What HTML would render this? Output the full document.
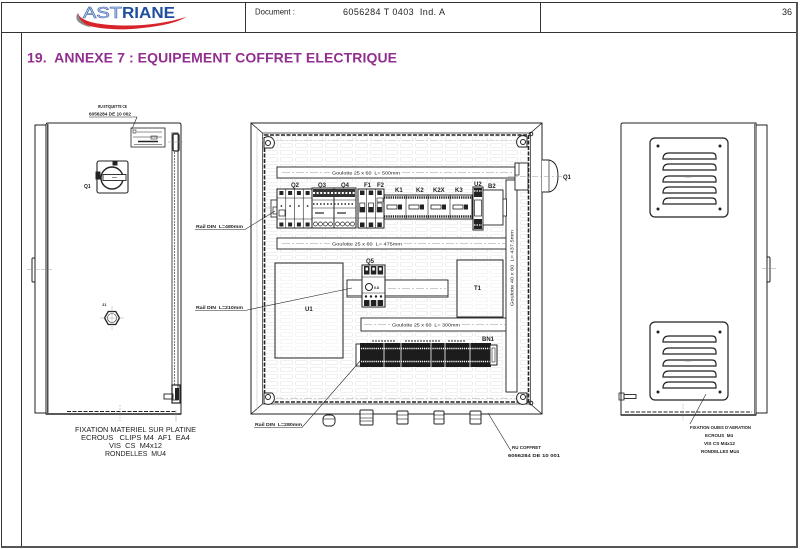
<!DOCTYPE html>
<html><head><meta charset="utf-8">
<style>
html,body{margin:0;padding:0;background:#fff;}
svg{display:block;}
text{font-family:"Liberation Sans",Arial,sans-serif;}
</style></head><body>
<svg width="800" height="549" viewBox="0 0 800 549" xmlns="http://www.w3.org/2000/svg">
<defs>
<pattern id="grid" x="264" y="135" width="15" height="7" patternUnits="userSpaceOnUse">
<rect x="1.5" y="1.5" width="12" height="4" rx="1.2" fill="none" stroke="#e3e3e3" stroke-width="0.6"/>
</pattern>
</defs>
<rect x="0" y="0" width="800" height="549" fill="#fff"/>

<!-- page frame -->
<g stroke="#333" fill="none">
<line x1="1.5" y1="2" x2="1.5" y2="548"/>
<line x1="1" y1="2.5" x2="798" y2="2.5"/>
<line x1="1" y1="32.5" x2="798" y2="32.5"/>
<line x1="245.5" y1="2" x2="245.5" y2="33"/>
<line x1="540.5" y1="2" x2="540.5" y2="33"/>
<line x1="21.5" y1="33" x2="21.5" y2="547"/>
</g>
<line x1="797" y1="2" x2="797" y2="548" stroke="#555" stroke-width="2"/>
<line x1="1" y1="547" x2="798" y2="547" stroke="#555" stroke-width="2"/>

<!-- logo -->
<path d="M78,13 C70,24 98,31 132,29 C158,27 177,23 186,17 C170,22 150,25.5 128,25.5 C100,25.5 80,22 78,13 Z" fill="#d9232a"/>
<path d="M78,13 C73,20 80,25 92,27.5 C84,24 79,20 78,13 Z" fill="#888"/>
<text x="83" y="18" font-size="16" fill="#c9d6ee" stroke="#3b63ad" stroke-width="0.6" textLength="39" lengthAdjust="spacingAndGlyphs">AST</text>
<text x="122" y="18" font-size="16" font-weight="bold" fill="#1f4e9e" textLength="53" lengthAdjust="spacingAndGlyphs">RIANE</text>

<!-- header texts -->
<text x="255" y="14.5" font-size="7.8" fill="#222">Document :</text>
<text x="343" y="15" font-size="9" fill="#222" textLength="102" xml:space="preserve">6056284 T 0403  Ind. A</text>
<text x="792" y="15" font-size="9" fill="#222" text-anchor="end">36</text>

<!-- title -->
<text x="27" y="62.5" font-size="14" font-weight="bold" fill="#912f8f" textLength="370" xml:space="preserve">19.  ANNEXE 7 : EQUIPEMENT COFFRET ELECTRIQUE</text>

<!-- ================= LEFT VIEW (door) ================= -->
<g stroke="#222" fill="none" stroke-width="1">
<rect x="35" y="125" width="11" height="288"/>
<path d="M46,414 V125 Q46,123 48,123 H179 Q181,123 181,125 V414 Z"/>
<line x1="47.8" y1="124" x2="47.8" y2="413" stroke-width="1.2"/>
<rect x="172" y="133" width="6" height="267" stroke-width="0.8"/>
<line x1="174.5" y1="152" x2="174.5" y2="385" stroke-dasharray="2 1" stroke-width="0.6"/>
<rect x="173" y="134" width="6" height="17" rx="1.5" stroke-width="1.3"/>
<line x1="168" y1="142" x2="184" y2="142" stroke="#999" stroke-width="0.5" stroke-dasharray="3 1 1 1"/>
<line x1="67" y1="411.5" x2="177" y2="411.5" stroke-dasharray="4 1.5" stroke-width="1"/>
<line x1="46" y1="414" x2="181" y2="414" stroke-width="1.6"/>
<line x1="120" y1="405" x2="120" y2="421" stroke="#999" stroke-width="0.5" stroke-dasharray="2 1"/>
<line x1="176" y1="410" x2="176" y2="422" stroke="#999" stroke-width="0.5"/>
<!-- bump -->
<rect x="32" y="258" width="3" height="24" rx="1"/>
<line x1="27" y1="269.5" x2="52" y2="269.5" stroke="#999" stroke-width="0.5" stroke-dasharray="4 1 1 1"/>
<!-- label plate -->
<rect x="131" y="128" width="34" height="19" stroke-width="0.8"/>
<rect x="133" y="130" width="3" height="3" stroke-width="0.6"/>
<line x1="137" y1="132" x2="162" y2="132" stroke-width="0.6"/>
<line x1="133" y1="137" x2="162" y2="137" stroke-width="0.6"/>
<rect x="151" y="136" width="6" height="3" stroke-width="0.6"/>
<line x1="138" y1="141.5" x2="158" y2="141.5" stroke-width="1.4"/>
<line x1="134" y1="144.5" x2="162" y2="144.5" stroke-width="0.5"/>
<polyline points="89,117 137,117 132,129" stroke-width="0.6"/>
<!-- Q1 switch -->
<rect x="97" y="161" width="31" height="32" rx="2" stroke-width="1.1"/>
<circle cx="112" cy="178" r="11" stroke-width="1.4"/>
<rect x="103" y="174.5" width="23" height="6" fill="#fff" stroke-width="0.9"/>
<line x1="112" y1="177.5" x2="117" y2="177.5" stroke-width="0.5"/>
<rect x="113" y="161" width="4" height="4" fill="#222"/>
<rect x="96" y="172" width="4" height="7" fill="#222"/>
<!-- J1 hex -->
<polygon points="119.5,318 115.75,324.5 108.25,324.5 104.5,318 108.25,311.5 115.75,311.5" stroke-width="1.3"/>
<circle cx="112" cy="318" r="4.5" stroke-width="0.6"/>
<line x1="100" y1="318" x2="124" y2="318" stroke="#999" stroke-width="0.4"/>
<line x1="112" y1="306" x2="112" y2="330" stroke="#999" stroke-width="0.4"/>
<!-- bracket bottom -->
<rect x="172" y="385" width="8" height="18" stroke-width="1.2"/>
<rect x="175" y="388" width="4" height="12" fill="#222" stroke="none"/>
<rect x="164" y="394" width="9" height="5" stroke-width="0.9"/>
</g>
<g fill="#222" font-weight="bold">
<text x="98" y="108" font-size="4.6" textLength="29" lengthAdjust="spacingAndGlyphs">RU ETIQUETTE CE</text>
<text x="89" y="115.5" font-size="4.6" textLength="42" lengthAdjust="spacingAndGlyphs">6056284 DE 10 002</text>
<text x="84" y="188" font-size="5">Q1</text>
<text x="102" y="306" font-size="4">J1</text>
<text x="75" y="432" font-size="7.5" font-weight="normal" textLength="121" lengthAdjust="spacingAndGlyphs">FIXATION MATERIEL SUR PLATINE</text>
<text x="81" y="440" font-size="7.5" font-weight="normal" textLength="109" lengthAdjust="spacingAndGlyphs" xml:space="preserve">ECROUS   CLIPS M4  AF1  EA4</text>
<text x="109" y="448" font-size="7.5" font-weight="normal" textLength="53" lengthAdjust="spacingAndGlyphs" xml:space="preserve">VIS  CS  M4x12</text>
<text x="105" y="456" font-size="7.5" font-weight="normal" textLength="61" lengthAdjust="spacingAndGlyphs" xml:space="preserve">RONDELLES  MU4</text>
</g>

<!-- ================= MIDDLE VIEW ================= -->
<rect x="264" y="135" width="266" height="267" fill="url(#grid)"/>
<g stroke="#222" fill="none" stroke-width="1">
<rect x="251" y="123" width="291" height="291"/>
<rect x="262.5" y="133" width="268" height="271" stroke-width="0.7"/>
<rect x="264.5" y="135" width="264" height="267" stroke-width="1.6" stroke-dasharray="4 1.5"/>
<line x1="251" y1="123" x2="262.5" y2="133" stroke-width="0.8"/>
<line x1="542" y1="123" x2="530.5" y2="133" stroke-width="0.8"/>
<line x1="251" y1="414" x2="262.5" y2="404" stroke-width="0.8"/>
<line x1="542" y1="414" x2="530.5" y2="404" stroke-width="0.8"/>
<line x1="257" y1="128" x2="257" y2="409" stroke="#bbb" stroke-width="0.5"/>
<line x1="262" y1="398.5" x2="530" y2="398.5" stroke="#aaa" stroke-width="0.6" stroke-dasharray="8 2 2 2"/>
<line x1="262" y1="140.5" x2="530" y2="140.5" stroke="#bbb" stroke-width="0.5" stroke-dasharray="8 2 2 2"/>
<!-- hinges -->
<path d="M264,138 A6,6 0 1 1 272,148 L264,148 Z" fill="#fff" stroke-width="1"/>
<circle cx="268" cy="143" r="2.5"/>
<path d="M527,137 A6,6 0 1 0 519,147 L527,147 Z" fill="#fff" stroke-width="1"/>
<circle cx="523" cy="142" r="2.5"/>
<path d="M264,403 A6,6 0 1 0 272,393 L264,393 Z" fill="#fff" stroke-width="1"/>
<circle cx="268" cy="397" r="2.5"/>
<path d="M527,403 A6,6 0 1 1 519,393 L527,393 Z" fill="#fff" stroke-width="1"/>
<circle cx="523" cy="397" r="2.5"/>
<circle cx="531" cy="134" r="1.8"/>
<circle cx="531" cy="403" r="1.8"/>

<!-- ducts -->
<rect x="277" y="167" width="238" height="11" fill="#fff" stroke-width="0.9"/>
<line x1="282" y1="172.5" x2="330" y2="172.5" stroke="#999" stroke-width="0.5" stroke-dasharray="8 2 2 2"/>
<line x1="402" y1="172.5" x2="512" y2="172.5" stroke="#999" stroke-width="0.5" stroke-dasharray="8 2 2 2"/>
<rect x="277" y="238" width="230" height="11" fill="#fff" stroke-width="0.9"/>
<line x1="282" y1="243.5" x2="330" y2="243.5" stroke="#999" stroke-width="0.5" stroke-dasharray="8 2 2 2"/>
<line x1="404" y1="243.5" x2="505" y2="243.5" stroke="#999" stroke-width="0.5" stroke-dasharray="8 2 2 2"/>
<rect x="361" y="318" width="146" height="13" fill="#fff" stroke-width="0.9"/>
<line x1="364" y1="324.5" x2="390" y2="324.5" stroke="#999" stroke-width="0.5" stroke-dasharray="8 2 2 2"/>
<line x1="462" y1="324.5" x2="505" y2="324.5" stroke="#999" stroke-width="0.5" stroke-dasharray="8 2 2 2"/>
<rect x="506" y="180" width="11" height="212" fill="#fff" stroke-width="0.9"/>

<!-- DIN rail top centerline -->
<line x1="264" y1="208" x2="506" y2="208" stroke="#aaa" stroke-width="0.5" stroke-dasharray="8 2 2 2"/>

<!-- Q2 -->
<rect x="271" y="200" width="6" height="17" fill="#fff" stroke-width="0.8"/>
<rect x="273" y="207" width="4" height="7" stroke-width="0.7"/>
<rect x="277" y="189" width="35" height="39" fill="#fff"/>
<line x1="285.75" y1="189" x2="285.75" y2="228" stroke-width="0.6"/>
<line x1="294.5" y1="189" x2="294.5" y2="228" stroke-width="0.6"/>
<line x1="303.25" y1="189" x2="303.25" y2="228" stroke-width="0.6"/>
<line x1="277" y1="198" x2="312" y2="198" stroke-width="0.6"/>
<line x1="277" y1="219" x2="312" y2="219" stroke-width="0.6"/>
<g fill="#222" stroke="none">
<rect x="279.4" y="191" width="4" height="4"/><rect x="288.1" y="191" width="4" height="4"/><rect x="296.9" y="191" width="4" height="4"/><rect x="305.6" y="191" width="4" height="4"/>
<circle cx="281.4" cy="206" r="0.9"/><circle cx="290.1" cy="206" r="0.9"/><circle cx="298.9" cy="206" r="0.9"/><circle cx="307.6" cy="206" r="0.9"/>
<rect x="279.4" y="222.5" width="4" height="4"/><rect x="288.1" y="222.5" width="4" height="4"/><rect x="296.9" y="222.5" width="4" height="4"/><rect x="305.6" y="222.5" width="4" height="4"/>
</g>
<rect x="279" y="210" width="6" height="6" stroke-width="0.7"/>

<!-- Q3 Q4 -->
<rect x="312" y="188" width="22" height="40" fill="#fff"/>
<rect x="334" y="188" width="22" height="40" fill="#fff"/>
<rect x="313" y="189" width="42" height="8" fill="#333" stroke="none"/>
<line x1="313" y1="193" x2="355" y2="193" stroke="#fff" stroke-width="2" stroke-dasharray="2 1.6"/>
<line x1="312" y1="200" x2="356" y2="200" stroke-width="0.6"/>
<line x1="313" y1="204" x2="355" y2="204" stroke-width="1.6" stroke-dasharray="1.5 2"/>
<line x1="312" y1="208" x2="356" y2="208" stroke-width="0.5"/>
<line x1="315" y1="213" x2="324" y2="213" stroke-width="1.2"/>
<line x1="337" y1="213" x2="346" y2="213" stroke-width="1.2"/>
<line x1="312" y1="218" x2="356" y2="218" stroke-width="0.6"/>
<circle cx="315.5" cy="224" r="2" stroke-width="0.7"/><circle cx="320.5" cy="224" r="2" stroke-width="0.7"/><circle cx="325.5" cy="224" r="2" stroke-width="0.7"/><circle cx="330.5" cy="224" r="2" stroke-width="0.7"/>
<circle cx="337.5" cy="224" r="2" stroke-width="0.7"/><circle cx="342.5" cy="224" r="2" stroke-width="0.7"/><circle cx="347.5" cy="224" r="2" stroke-width="0.7"/><circle cx="352.5" cy="224" r="2" stroke-width="0.7"/>

<!-- F1 F2 -->
<rect x="358" y="189" width="26" height="39" fill="#fff"/>
<line x1="366.7" y1="189" x2="366.7" y2="228" stroke-width="0.6"/>
<line x1="375.3" y1="189" x2="375.3" y2="228" stroke-width="0.6"/>
<g fill="#222" stroke="none">
<rect x="360" y="190.5" width="4.5" height="4.5"/><rect x="368.7" y="190.5" width="4.5" height="4.5"/><rect x="377.3" y="190.5" width="4.5" height="4.5"/>
<rect x="360" y="207" width="4.5" height="5"/><rect x="368.7" y="207" width="4.5" height="5"/><rect x="377.3" y="207" width="4.5" height="5"/>
<rect x="360" y="222.5" width="4.5" height="4.5"/><rect x="368.7" y="222.5" width="4.5" height="4.5"/><rect x="377.3" y="222.5" width="4.5" height="4.5"/>
</g>
<rect x="359.8" y="203" width="5" height="9" stroke-width="0.7"/><rect x="368.5" y="203" width="5" height="9" stroke-width="0.7"/><rect x="377.1" y="203" width="5" height="9" stroke-width="0.7"/>
<rect x="377" y="198" width="6" height="4" stroke-width="0.6"/>
<line x1="358" y1="218" x2="384" y2="218" stroke-width="0.6"/>

<!-- contactors -->
<rect x="384" y="195" width="88" height="24" fill="#fff"/>
<line x1="406" y1="195" x2="406" y2="219" stroke-width="0.6"/>
<line x1="428" y1="195" x2="428" y2="219" stroke-width="0.6"/>
<line x1="450" y1="195" x2="450" y2="219" stroke-width="0.6"/>
<line x1="384" y1="197.5" x2="472" y2="197.5" stroke-width="2.5" stroke-dasharray="1.3 0.9"/>
<line x1="384" y1="216.5" x2="472" y2="216.5" stroke-width="2.5" stroke-dasharray="1.3 0.9"/>
<rect x="387" y="205" width="10" height="4" stroke-width="0.8"/><rect x="398" y="204.5" width="4" height="5" fill="#222" stroke="none"/>
<rect x="409" y="205" width="10" height="4" stroke-width="0.8"/><rect x="420" y="204.5" width="4" height="5" fill="#222" stroke="none"/>
<rect x="431" y="205" width="10" height="4" stroke-width="0.8"/><rect x="442" y="204.5" width="4" height="5" fill="#222" stroke="none"/>
<rect x="453" y="205" width="10" height="4" stroke-width="0.8"/><rect x="464" y="204.5" width="4" height="5" fill="#222" stroke="none"/>

<!-- U2 -->
<rect x="473" y="187" width="10" height="43" fill="#fff"/>
<rect x="474" y="188" width="8" height="9" fill="#222" stroke="none"/>
<line x1="474" y1="191" x2="482" y2="191" stroke="#fff" stroke-width="1.2" stroke-dasharray="1.5 1"/>
<rect x="474.5" y="200" width="7" height="16" stroke-width="0.7"/>
<rect x="474" y="219" width="8" height="10" fill="#222" stroke="none"/>
<line x1="474" y1="225" x2="482" y2="225" stroke="#fff" stroke-width="1.2" stroke-dasharray="1.5 1"/>
<!-- B2 -->
<rect x="483" y="190" width="20" height="35" fill="#fff" stroke-width="0.9"/>
<rect x="503" y="199" width="3.5" height="17" fill="#fff" stroke-width="0.8"/>

<!-- Q1 shaft & handle -->
<rect x="515" y="163" width="13" height="27" fill="#fff" stroke-width="0.9"/>
<rect x="515" y="163" width="4" height="12" stroke-width="0.7"/>
<path d="M542,160 H549 Q558,162 558,176 Q558,190 549,192 H542" fill="#fff" stroke-width="1"/>
<line x1="549" y1="160" x2="549" y2="192" stroke-width="0.7"/>
<line x1="508" y1="176.5" x2="562" y2="176.5" stroke="#999" stroke-width="0.5" stroke-dasharray="6 2 2 2"/>

<!-- Q5 rail and Q5 -->
<rect x="347" y="280" width="101" height="17" fill="#fff" stroke-width="0.9"/>
<line x1="347" y1="295.5" x2="448" y2="295.5" stroke-width="0.6"/>
<line x1="388" y1="288.5" x2="446" y2="288.5" stroke="#999" stroke-width="0.5" stroke-dasharray="8 2 2 2"/>
<rect x="362" y="265" width="23" height="42" fill="#fff"/>
<g fill="#222" stroke="none">
<rect x="364" y="266" width="5.5" height="8.5"/><rect x="370.8" y="266" width="5.5" height="8.5"/><rect x="377.6" y="266" width="5.5" height="8.5"/>
<rect x="364" y="300" width="5.5" height="6"/><rect x="370.8" y="300" width="5.5" height="6"/><rect x="377.6" y="300" width="5.5" height="6"/>
<circle cx="366" cy="296.5" r="1.2"/><circle cx="371" cy="296.5" r="1.2"/><circle cx="376" cy="296.5" r="1.2"/><circle cx="381" cy="296.5" r="1.2"/>
</g>
<g fill="#fff" stroke="none">
<rect x="365.5" y="267.5" width="2.5" height="3"/><rect x="372.3" y="267.5" width="2.5" height="3"/><rect x="379.1" y="267.5" width="2.5" height="3"/>
</g>
<line x1="362" y1="277" x2="385" y2="277" stroke-width="0.6"/>
<circle cx="369" cy="287" r="3.5" stroke-width="1"/>
<line x1="362" y1="293" x2="385" y2="293" stroke-width="0.5"/>

<!-- U1, T1 -->
<rect x="275" y="263" width="68" height="95" fill="#fff" fill-opacity="0.4"/>
<rect x="457" y="260" width="46" height="57" fill="#fff" fill-opacity="0.4"/>

<!-- BN1 -->
<rect x="356" y="344" width="5" height="22" fill="#fff" stroke-width="0.9"/>
<rect x="360" y="343" width="131" height="24" fill="#1c1c1c" stroke="none"/>
<line x1="361" y1="348.5" x2="490" y2="348.5" stroke="#fff" stroke-width="1.6" stroke-dasharray="1.2 0.9"/>
<line x1="361" y1="361.5" x2="490" y2="361.5" stroke="#fff" stroke-width="1.6" stroke-dasharray="1.2 0.9"/>
<line x1="384" y1="343" x2="384" y2="367" stroke="#fff" stroke-width="0.8"/>
<line x1="401" y1="343" x2="401" y2="367" stroke="#fff" stroke-width="0.8"/>
<line x1="431" y1="343" x2="431" y2="367" stroke="#fff" stroke-width="0.8"/>
<line x1="445" y1="343" x2="445" y2="367" stroke="#fff" stroke-width="0.8"/>
<line x1="470" y1="343" x2="470" y2="367" stroke="#fff" stroke-width="0.8"/>
<rect x="490" y="345" width="7" height="20" fill="#fff" stroke-width="1"/>
<rect x="492" y="348" width="3" height="14" stroke-width="0.6"/>
<line x1="372" y1="341" x2="395" y2="341" stroke-width="1" stroke-dasharray="2 1"/>
<line x1="405" y1="341" x2="440" y2="341" stroke-width="1" stroke-dasharray="2 1"/>
<line x1="448" y1="341" x2="465" y2="341" stroke-width="1" stroke-dasharray="2 1"/>

<!-- glands -->
<rect x="323" y="415" width="12" height="11" rx="4" fill="#fff" stroke-width="1"/>
<line x1="323" y1="419" x2="335" y2="419" stroke-width="0.6"/><line x1="326" y1="426" x2="332" y2="426" stroke-width="1"/>
<rect x="360" y="410" width="13" height="15" rx="1" fill="#fff" stroke-width="1"/>
<line x1="360" y1="414" x2="373" y2="414" stroke-width="0.6"/><line x1="360" y1="418" x2="373" y2="418" stroke-width="0.6"/><line x1="360" y1="421" x2="373" y2="421" stroke-width="0.6"/>
<rect x="397" y="411" width="11" height="13" rx="1" fill="#fff" stroke-width="1"/>
<line x1="397" y1="415" x2="408" y2="415" stroke-width="0.6"/><line x1="397" y1="419" x2="408" y2="419" stroke-width="0.6"/>
<rect x="434" y="411" width="10" height="13" rx="1" fill="#fff" stroke-width="1"/>
<line x1="434" y1="415" x2="444" y2="415" stroke-width="0.6"/><line x1="434" y1="419" x2="444" y2="419" stroke-width="0.6"/>
<rect x="470" y="411" width="11" height="13" rx="1" fill="#fff" stroke-width="1"/>
<line x1="470" y1="415" x2="481" y2="415" stroke-width="0.6"/><line x1="470" y1="419" x2="481" y2="419" stroke-width="0.6"/>

<!-- leaders -->
<polyline points="195,229.5 245,229.5 275,211" stroke-width="0.6"/>
<polyline points="195,310.5 245,310.5 352,288" stroke-width="0.6"/>
<polyline points="254,427.5 302,427.5 361,360" stroke-width="0.6"/>
<line x1="488" y1="413" x2="511" y2="451" stroke-width="0.6"/>
</g>
<g fill="#222" font-weight="bold">
<text x="332" y="174.5" font-size="4.5" font-weight="normal" textLength="68" lengthAdjust="spacingAndGlyphs" xml:space="preserve">Goulotte 25 x 60  L= 500mm</text>
<text x="332" y="245.5" font-size="4.5" font-weight="normal" textLength="70" lengthAdjust="spacingAndGlyphs" xml:space="preserve">Goulotte 25 x 60  L= 475mm</text>
<text x="392" y="326.5" font-size="4.5" font-weight="normal" textLength="68" lengthAdjust="spacingAndGlyphs" xml:space="preserve">Goulotte 25 x 60  L= 300mm</text>
<text transform="translate(513.5,306) rotate(-90)" font-size="4.5" font-weight="normal" textLength="76" lengthAdjust="spacingAndGlyphs" xml:space="preserve">Goulotte 40 x 60  L= 437.5mm</text>
<text x="291" y="187" font-size="6">Q2</text>
<text x="318" y="187" font-size="6">Q3</text>
<text x="341" y="187" font-size="6">Q4</text>
<text x="364" y="187" font-size="6">F1</text>
<text x="377" y="187" font-size="6">F2</text>
<text x="395" y="192" font-size="6">K1</text>
<text x="416" y="192" font-size="6">K2</text>
<text x="433" y="192" font-size="6">K2X</text>
<text x="455" y="192" font-size="6">K3</text>
<text x="474" y="186" font-size="6">U2</text>
<text x="488" y="188" font-size="6">B2</text>
<text x="366" y="263" font-size="6">Q5</text>
<text x="374" y="289" font-size="3.5">0.8</text>
<text x="305" y="311" font-size="6">U1</text>
<text x="474" y="290" font-size="6">T1</text>
<text x="482" y="341" font-size="6">BN1</text>
<text x="563" y="179" font-size="6">Q1</text>
<text x="196" y="228" font-size="4.6" textLength="47" lengthAdjust="spacingAndGlyphs" xml:space="preserve">Rail DIN  L=480mm</text>
<text x="196" y="309" font-size="4.6" textLength="47" lengthAdjust="spacingAndGlyphs" xml:space="preserve">Rail DIN  L=210mm</text>
<text x="255" y="426" font-size="4.6" textLength="47" lengthAdjust="spacingAndGlyphs" xml:space="preserve">Rail DIN  L=280mm</text>
<text x="512" y="449" font-size="4.6" textLength="29" lengthAdjust="spacingAndGlyphs">RU COFFRET</text>
<text x="508" y="457" font-size="4.6" textLength="52" lengthAdjust="spacingAndGlyphs">6056284 DE 10 001</text>
</g>

<!-- ================= RIGHT VIEW ================= -->
<g stroke="#222" fill="none" stroke-width="1">
<path d="M621,415 V125 Q621,123 623,123 H756 V415 Z"/>
<rect x="756" y="125" width="11" height="288"/>
<line x1="754.5" y1="124" x2="754.5" y2="414" stroke-width="0.6"/>
<rect x="767" y="257" width="3" height="25" rx="1"/>
<line x1="762" y1="268.5" x2="776" y2="268.5" stroke="#999" stroke-width="0.5"/>
<line x1="625" y1="412" x2="752" y2="412" stroke-dasharray="4 1.5"/>
<line x1="621" y1="415" x2="756" y2="415" stroke-width="1.5"/>
<line x1="683" y1="404" x2="683" y2="420" stroke="#999" stroke-width="0.5" stroke-dasharray="2 1"/>
<rect x="619" y="393" width="5" height="7" stroke-width="0.8"/>
<rect x="624" y="394.5" width="12" height="4" stroke-width="0.9"/>
<!-- top vent -->
<rect x="650" y="138" width="78" height="79" rx="5" stroke-width="1.2"/>
<g fill="#222" stroke="none">
<circle cx="658" cy="146" r="1.5"/><circle cx="720" cy="146" r="1.5"/><circle cx="658" cy="209" r="1.5"/><circle cx="720" cy="209" r="1.5"/>
<circle cx="658" cy="332" r="1.5"/><circle cx="720" cy="332" r="1.5"/><circle cx="658" cy="392" r="1.5"/><circle cx="720" cy="392" r="1.5"/>
</g>
<g stroke-width="1.2">
<path d="M663,159 Q663,153 669,153 H712 Q716,153 716,157 V159 Z"/>
<path d="M663,170 Q663,164 669,164 H712 Q716,164 716,168 V170 Z"/>
<path d="M663,182 Q663,176 669,176 H712 Q716,176 716,180 V182 Z"/>
<path d="M663,193 Q663,187 669,187 H712 Q716,187 716,191 V193 Z"/>
<path d="M663,204 Q663,198 669,198 H712 Q716,198 716,202 V204 Z"/>
</g>
<line x1="685" y1="177.5" x2="691" y2="177.5" stroke="#999" stroke-width="0.4"/>
<!-- bottom vent -->
<rect x="650" y="322" width="78" height="78" rx="5" stroke-width="1.2"/>
<g stroke-width="1.2">
<path d="M663,342 Q663,336 669,336 H712 Q716,336 716,340 V342 Z"/>
<path d="M663,354 Q663,348 669,348 H712 Q716,348 716,352 V354 Z"/>
<path d="M663,366 Q663,360 669,360 H712 Q716,360 716,364 V366 Z"/>
<path d="M663,377 Q663,371 669,371 H712 Q716,371 716,375 V377 Z"/>
<path d="M663,388 Q663,382 669,382 H712 Q716,382 716,386 V388 Z"/>
</g>
<line x1="685" y1="361.5" x2="691" y2="361.5" stroke="#999" stroke-width="0.4"/>
<line x1="706" y1="394" x2="690" y2="424" stroke-width="0.6"/>
</g>
<g fill="#222" font-weight="bold">
<text x="690" y="429" font-size="4.4" textLength="61" lengthAdjust="spacingAndGlyphs">FIXATION OUIES D'AERATION</text>
<text x="705" y="437" font-size="4.4" textLength="28" lengthAdjust="spacingAndGlyphs" xml:space="preserve">ECROUS  M4</text>
<text x="704" y="445" font-size="4.4" textLength="31" lengthAdjust="spacingAndGlyphs">VIS CS M4x12</text>
<text x="701" y="453" font-size="4.4" textLength="38" lengthAdjust="spacingAndGlyphs">RONDELLES MU4</text>
</g>
</svg>
</body></html>
